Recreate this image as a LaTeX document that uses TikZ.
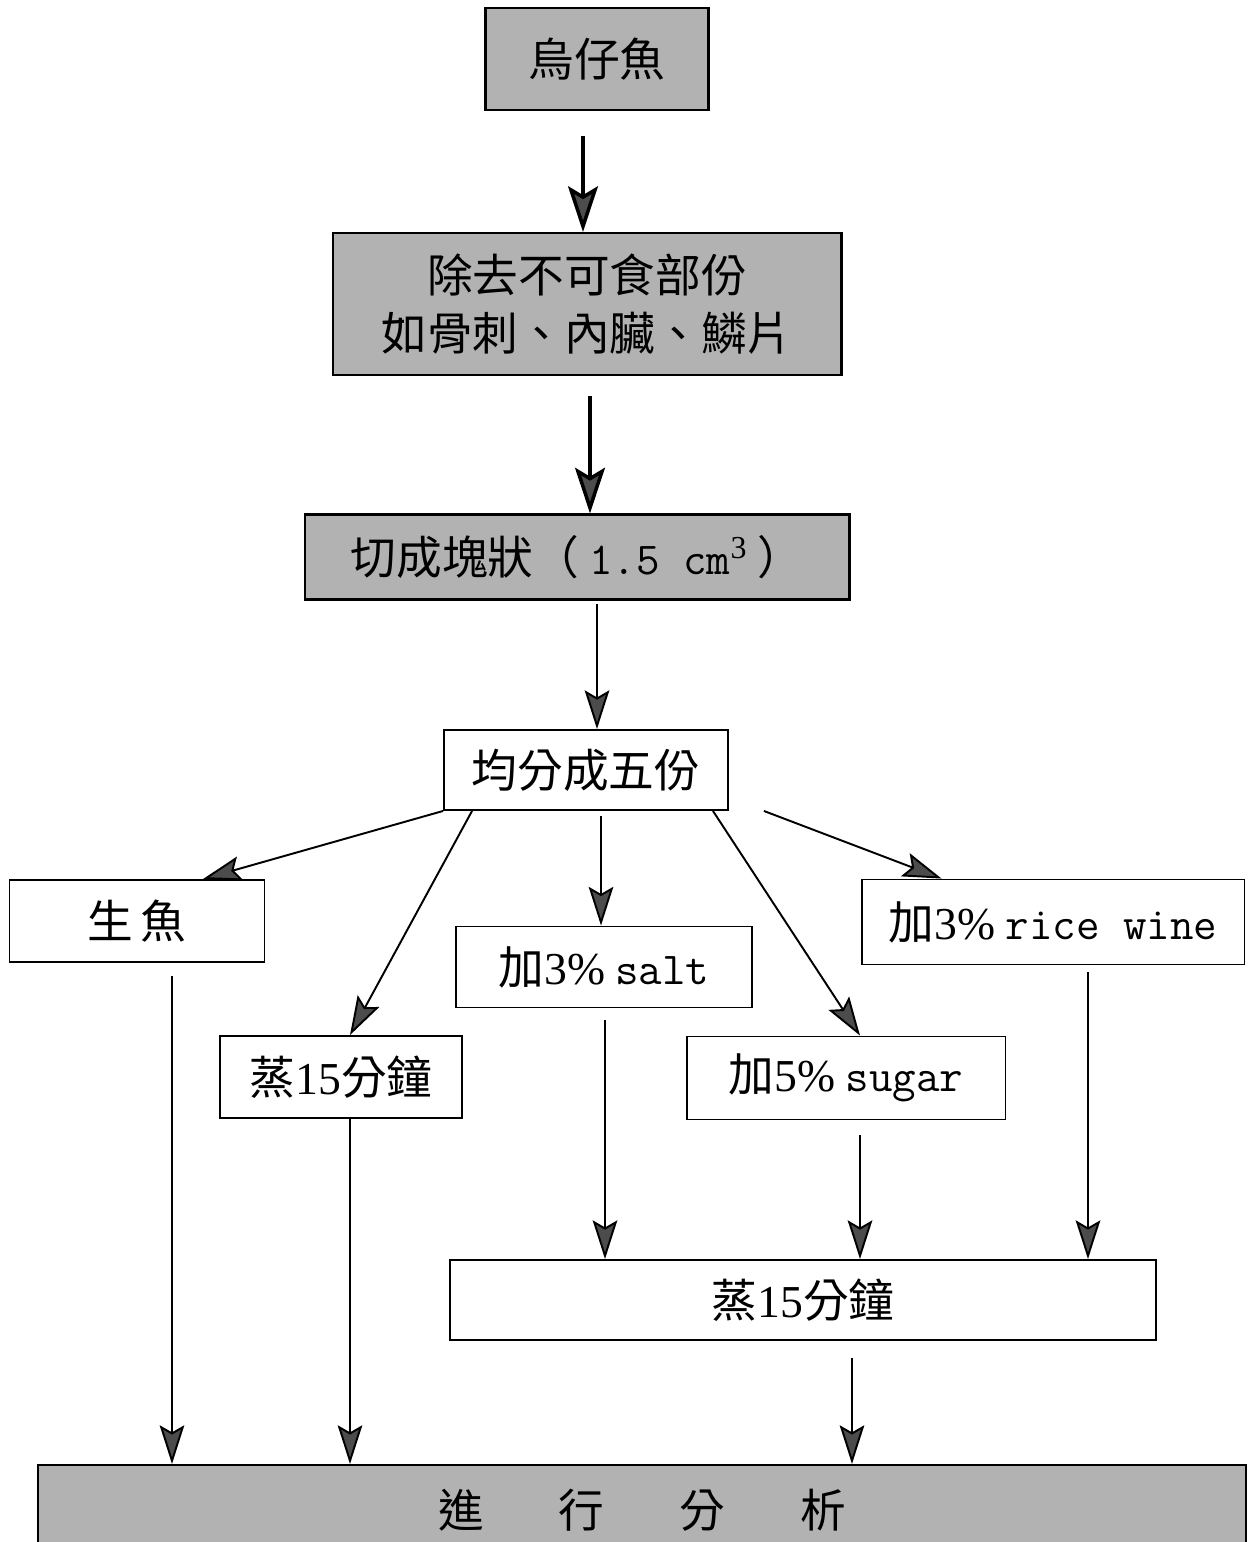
\documentclass[tikz,border=0pt]{standalone}
\usepackage{fontspec}
\setmainfont{Liberation Serif}
\newfontfamily\cjk{Noto Sans CJK TC}
\usetikzlibrary{arrows.meta,calc,positioning}
\definecolor{halftone}{gray}{0.7}
\newcommand{\ltn}[1]{{\rmfamily #1}}
\newcommand{\eng}[1]{{\ttfamily #1}}
\tikzset{
  grayblock/.style={draw,line width=1.2pt,fill=halftone,inner sep=0pt,align=center,
    font=\cjk\fontsize{26}{33}\selectfont},
  whiteblock/.style={draw,line width=1.1pt,fill=white,inner sep=0pt,align=center,
    font=\cjk\fontsize{26}{33}\selectfont},
  bigflow/.style={-{Stealth[length=26pt,width=17pt,inset=5pt,fill=black!70]},line width=2pt},
  flow/.style={-{Stealth[length=22pt,width=14pt,inset=4pt,fill=black!70]},line width=1.1pt},
}

\begin{document}
\begin{tikzpicture}[x=0.02cm,y=-0.02cm]
\useasboundingbox (0,0) rectangle (1254,1542);
\clip (0,0) rectangle (1254,1542);

% preparation chain
\node[grayblock,minimum width=4.46cm,minimum height=2.04cm] (fish) at (597,59) {烏仔魚};
\node[grayblock,minimum width=10.18cm,minimum height=2.84cm] (clean) at (587,304)
  {除去不可食部份\\如骨刺、內臟、鱗片};
\node[grayblock,minimum width=10.9cm,minimum height=1.7cm] (cut) at (577,557)
  {切成塊狀（ \eng{1.5 cm}\textsuperscript{\ltn{3}} ）};
\node[whiteblock,minimum width=5.68cm,minimum height=1.6cm] (split) at (586,770) {均分成五份};

% five portions
\node[whiteblock,minimum width=5.1cm,minimum height=1.64cm] (raw) at (137,921) {生\hspace{0.15cm}魚};
\node[whiteblock,minimum width=4.84cm,minimum height=1.64cm] (steamA) at (341,1077) {蒸\ltn{15}分鐘};
\node[whiteblock,minimum width=5.92cm,minimum height=1.62cm] (salt) at (604,967) {加\ltn{3\%} \eng{salt}};
\node[whiteblock,minimum width=6.38cm,minimum height=1.66cm] (sugar) at (846,1078) {加\ltn{5\%} \eng{sugar}};
\node[whiteblock,minimum width=7.66cm,minimum height=1.7cm] (wine) at (1053,922) {加\ltn{3\%} \eng{rice wine}};
\node[whiteblock,minimum width=14.14cm,minimum height=1.6cm] (steamB) at (803,1300) {蒸\ltn{15}分鐘};
\node[grayblock,minimum width=24.18cm,minimum height=1.8cm] (analysis) at (642,1510)
  {進\hspace{1.5cm}行\hspace{1.5cm}分\hspace{1.5cm}析};

% vertical flows
\coordinate (a1) at ([xshift=-0.28cm,yshift=-0.5cm]fish.south);
\coordinate (a2) at ([xshift=0.06cm,yshift=-0.4cm]clean.south);
\coordinate (a3) at ([xshift=0.4cm,yshift=-0.06cm]cut.south);
\draw[bigflow] (a1) -- (a1 |- clean.north);
\draw[bigflow] (a2) -- (a2 |- cut.north);
\draw[flow] (a3) -- (a3 |- split.north);

% branching
\coordinate (b3) at ([xshift=0.3cm,yshift=-0.1cm]split.south);
\draw[flow] (split.south west) -- ([xshift=1.32cm]raw.north);
\draw[flow] ([xshift=-2.28cm]split.south) -- ([xshift=0.18cm]steamA.north);
\draw[flow] (b3) -- (b3 |- salt.north);
\draw[flow] ([xshift=2.54cm]split.south) -- ([xshift=0.28cm]sugar.north);
\draw[flow] ([xshift=0.7cm]split.south east) -- ([xshift=1.62cm]wine.north west);

% down to steaming and analysis
\coordinate (d1) at ([xshift=0.7cm,yshift=-0.26cm]raw.south);
\coordinate (d2) at ([xshift=0.18cm]steamA.south);
\coordinate (d3) at ([xshift=0.02cm,yshift=-0.24cm]salt.south);
\coordinate (d4) at ([xshift=0.28cm,yshift=-0.3cm]sugar.south);
\coordinate (d5) at ([xshift=0.7cm,yshift=-0.14cm]wine.south);
\coordinate (d6) at ([xshift=0.98cm,yshift=-0.34cm]steamB.south);
\draw[flow] (d1) -- (d1 |- analysis.north);
\draw[flow] (d2) -- (d2 |- analysis.north);
\draw[flow] (d3) -- (d3 |- steamB.north);
\draw[flow] (d4) -- (d4 |- steamB.north);
\draw[flow] (d5) -- (d5 |- steamB.north);
\draw[flow] (d6) -- (d6 |- analysis.north);
\end{tikzpicture}
\end{document}
